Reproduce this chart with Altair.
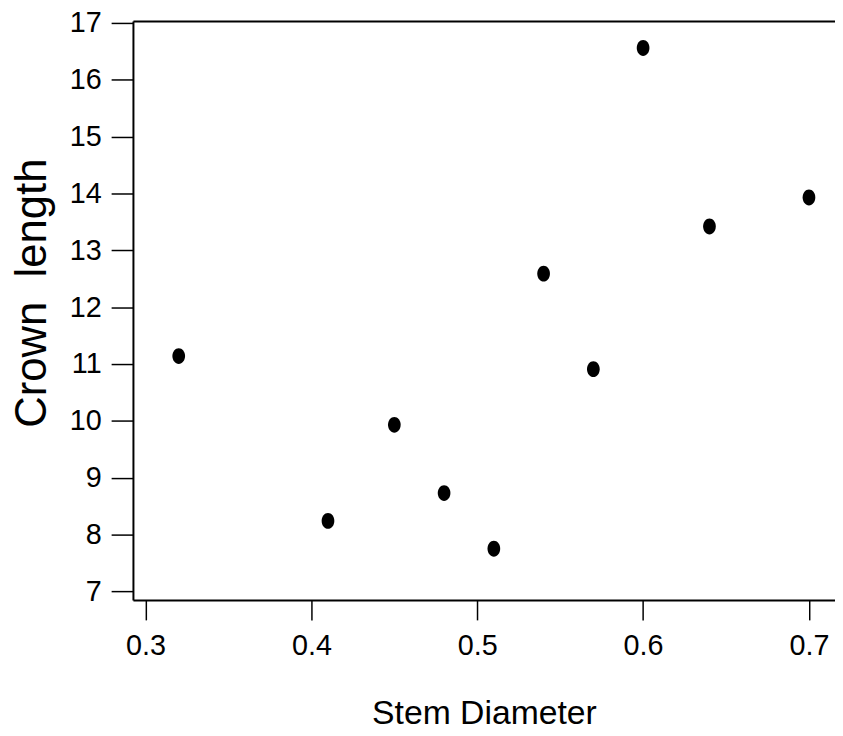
import altair as alt
import pandas as pd

# Data
stem_diameter = [0.32, 0.41, 0.45, 0.48, 0.51, 0.54, 0.57, 0.60, 0.64, 0.70]
crown_length = [11.14, 8.24, 9.93, 8.73, 7.75, 12.59, 10.91, 16.56, 13.42, 13.93]
x_ticks = [0.3, 0.4, 0.5, 0.6, 0.7]
y_ticks = [7, 8, 9, 10, 11, 12, 13, 14, 15, 16, 17]

df = pd.DataFrame({"stem": stem_diameter, "crown": crown_length})

W, H = 708, 584
FONT = "Liberation Sans"
ellipse = "M-0.8,0A0.8,1,0,1,1,0.8,0A0.8,1,0,1,1,-0.8,0Z"

x_scale = alt.Scale(domain=[0.2924, 0.7157], nice=False, zero=False)
y_scale = alt.Scale(domain=[6.848, 17.035], nice=False, zero=False)

points = alt.Chart(df).mark_point(
    filled=True, shape=ellipse, size=256, color="black", opacity=1
).encode(
    x=alt.X("stem:Q", scale=x_scale, axis=alt.Axis(
        values=x_ticks, format=".1f", tickSize=20, labelPadding=12,
        labelFontSize=29, title="Stem Diameter", titleFontSize=34,
        titleY=124, titleBaseline="alphabetic", titleFontWeight="normal",
        domainWidth=2, tickWidth=1.5, grid=False,
    )),
    y=alt.Y("crown:Q", scale=y_scale, axis=alt.Axis(
        values=y_ticks, format="d", tickSize=22, labelPadding=10,
        labelFontSize=29, title="Crown\u00a0 length", titleFontSize=44,
        titleX=-88, titleY=274, titleAngle=270, titleBaseline="alphabetic",
        titleFontWeight="normal", domainWidth=2, tickWidth=1.5, grid=False,
    )),
)

top_border = alt.Chart(df).mark_point(opacity=0).encode(
    x=alt.X("stem:Q", scale=x_scale, axis=alt.Axis(
        orient="top", labels=False, ticks=False, title=None,
        domain=True, domainWidth=2, grid=False,
    )),
)

chart = alt.layer(points, top_border).resolve_axis(x="independent").properties(
    width=W, height=H,
    autosize=alt.AutoSizeParams(type="none"),
    padding={"left": 126, "top": 10, "right": 0, "bottom": 130},
).configure_view(strokeOpacity=0).configure_axis(
    domainColor="black", tickColor="black", labelColor="black",
    titleColor="black", labelFont=FONT, titleFont=FONT,
)

chart.save("out.html", embed_options={"renderer": "svg", "actions": False})
